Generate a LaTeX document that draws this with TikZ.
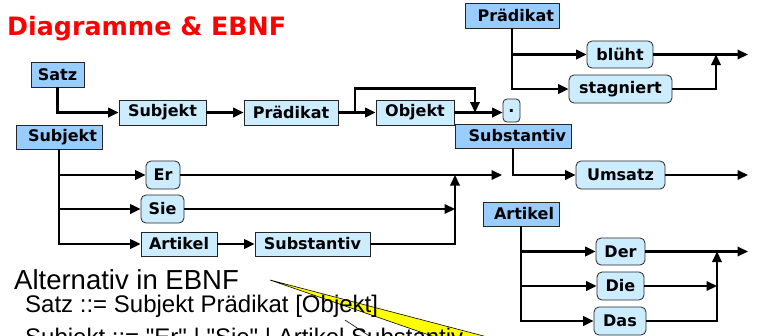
\documentclass[tikz,border=0pt]{standalone}
\usepackage{fontspec}
\usetikzlibrary{arrows.meta}
\newfontfamily\verd{DejaVu Sans}
\newfontfamily\arialish{Liberation Sans}
\definecolor{hdrblue}{RGB}{153,204,255}
\definecolor{boxblue}{RGB}{204,236,255}
\definecolor{titlered}{RGB}{255,0,0}
\definecolor{callout}{RGB}{255,255,0}
\tikzset{
  lbl/.style={font=\verd\bfseries\fontsize{16}{18}\selectfont},
  hdr/.style={lbl, draw=black!85, line width=0.8pt, fill=hdrblue,
    minimum height=25pt, inner ysep=0pt, inner xsep=5pt, align=right},
  box/.style={lbl, draw=black!85, line width=0.8pt, fill=boxblue,
    minimum height=25pt, inner sep=0pt},
  rbox/.style={box, rounded corners=5pt, minimum height=28pt},
  conn/.style={line width=2.1pt},
  arr/.style={conn, -{Triangle[length=10.5pt,width=9.5pt]}},
}
\begin{document}
\begin{tikzpicture}[x=1pt,y=-1pt]
\useasboundingbox (0,0) rectangle (758,335);
\clip (0,0) rectangle (758,335);

% title
\node[anchor=base west, inner sep=0pt, text=titlered,
  font=\verd\bfseries\fontsize{25.3}{30}\selectfont] (title) at (7,35) {Diagramme \& EBNF};

% ---- Satz ----
\node[hdr, text width=43pt, align=center] (satz) at (57.5,74.5) {Satz};
\node[box, minimum width=87pt] (subj) at (162.5,112.5) {Subjekt};
\node[box, minimum width=94pt] (praed) at (291,112.5) {Prädikat};
\node[box, minimum width=78pt] (obj) at (415,112.5) {Objekt};
\node[box, rounded corners=4pt, minimum width=17pt, minimum height=23pt] (dot) at (511.5,110.5) {.};
\coordinate (skipA) at (355,112.5);
\coordinate (skipB) at (475,112.5);
\draw[arr] (satz.south) |- (subj.west);
\draw[arr] (subj.east) -- (praed.west);
\draw[arr] (praed.east) -- (obj.west);
\draw[arr] (obj.east) -- (obj.east -| dot.west);
\draw[arr] (skipA) |- ++(60,-24) -| (skipB);

% ---- Praedikat ----
\node[hdr, text width=84pt] (phdr) at (512,15.5) {Prädikat};
\node[rbox, minimum width=66pt, minimum height=27pt] (blueht) at (620,54.5) {blüht};
\node[rbox, minimum width=103pt] (stag) at (620.5,89) {stagniert};
\coordinate (pEnd) at (748,54.5);
\coordinate (pJoin) at (716,54.5);
\draw[arr] (phdr.south) |- (blueht.west);
\draw[arr] (phdr.south) |- (stag.west);
\draw[arr] (blueht.east) -- (pEnd);
\draw[arr] (stag.east) -| (pJoin);

% ---- Subjekt ----
\node[hdr, text width=76pt, minimum height=24pt] (shdr) at (59,137) {Subjekt};
\node[rbox, minimum width=34pt] (er) at (163,175) {Er};
\node[rbox, minimum width=43pt] (sie) at (162.5,209) {Sie};
\node[box, minimum width=76pt, minimum height=24pt] (art) at (179,244) {Artikel};
\node[box, minimum width=115pt, minimum height=24pt] (sub) at (312.5,244) {Substantiv};
\coordinate (sEnd) at (502,175);
\coordinate (sJoin) at (455,175);
\draw[arr] (shdr.south) |- (er.west);
\draw[arr] (shdr.south) |- (sie.west);
\draw[arr] (shdr.south) |- (art.west);
\draw[arr] (art.east) -- (sub.west);
\draw[arr] (er.east) -- (sEnd);
\draw[arr] (sie.east) -- (sie.east -| sJoin);
\draw[arr] (sub.east) -| (sJoin);

% ---- Substantiv ----
\node[hdr, text width=106pt, minimum height=24pt] (subhdr) at (513,136) {Substantiv};
\node[rbox, minimum width=89pt] (ums) at (620.5,175) {Umsatz};
\coordinate (uEnd) at (748,175);
\draw[arr] (subhdr.south) |- (ums.west);
\draw[arr] (ums.east) -- (uEnd);

% ---- Artikel ----
\node[hdr, text width=66pt, minimum height=24pt] (ahdr) at (521,214) {Artikel};
\node[rbox, minimum width=49pt, minimum height=27pt] (der) at (620.5,251.5) {Der};
\node[rbox, minimum width=47pt] (die) at (620.5,286) {Die};
\node[rbox, minimum width=52pt] (das) at (620,321) {Das};
\coordinate (aEnd) at (748,251.5);
\coordinate (aJoin) at (717,251.5);
\draw[arr] (ahdr.south) |- (der.west);
\draw[arr] (ahdr.south) |- (die.west);
\draw[arr] (ahdr.south) |- (das.west);
\draw[arr] (der.east) -- (aEnd);
\draw[arr] (die.east) -- (die.east -| aJoin);
\draw[arr] (das.east) -| (aJoin);

% ---- callout wedge ----
\coordinate (wTip) at (270,280);
\fill[callout] (wTip) -- (518,345) -- (458,345) -- cycle;
\draw[line width=0.6pt] (518,345) -- (wTip) -- (458,345);
\coordinate (tickA) at (345,320);
\coordinate (tickB) at (380,343);
\draw[line width=0.6pt] (tickA) -- (tickB);

% ---- EBNF text ----
\node[anchor=base west, inner sep=0pt, font=\arialish\fontsize{27.5}{32}\selectfont]
  (alt) at (14,289) {Alternativ in EBNF};
\node[anchor=base west, inner sep=0pt, font=\arialish\fontsize{24}{28}\selectfont]
  (r1) at (25,312) {Satz ::= Subjekt Prädikat [Objekt]};
\node[anchor=base west, inner sep=0pt, font=\arialish\fontsize{24}{28}\selectfont]
  (r2) at (25,345) {Subjekt ::= "Er" | "Sie" | Artikel Substantiv};
\end{tikzpicture}
\end{document}
